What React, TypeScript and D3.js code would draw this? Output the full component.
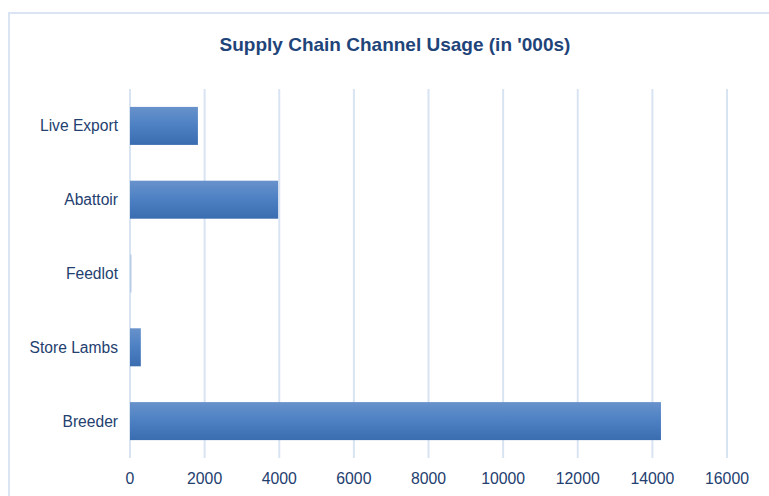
import React from "react";
import * as d3 from "d3";

const categories = ["Live Export", "Abattoir", "Feedlot", "Store Lambs", "Breeder"];
const values = [1820, 3970, 40, 290, 14230];
const xTicks = [0, 2000, 4000, 6000, 8000, 10000, 12000, 14000, 16000];
const title = "Supply Chain Channel Usage (in '000s)";

export default function App() {
  const W = 769, H = 496;
  const left = 130, right = 727, top = 89, bottom = 458;
  const x = d3.scaleLinear().domain([0, 16000]).range([left, right]);
  const y = d3.scaleBand<string>().domain(categories).range([top, bottom]).paddingInner(0.485).paddingOuter(0.2425);
  const font = "'Liberation Sans', Arial, sans-serif";
  const textColor = "#24406f";
  return (
    <svg width={W} height={H} style={{ position: "absolute", left: 0, top: 0, background: "#fff" }}>
      <defs>
        <linearGradient id="barGrad" x1="0" y1="0" x2="0" y2="1">
          <stop offset="0%" stopColor="#6892cb" />
          <stop offset="50%" stopColor="#4c80c3" />
          <stop offset="100%" stopColor="#3a6cb0" />
        </linearGradient>
      </defs>
      <path d={`M9,${H + 5} L9,13 L${W + 5},13`} fill="none" stroke="#dae4f2" strokeWidth={2} />
      <text x={395} y={51} textAnchor="middle" fontFamily={font} fontWeight="bold" fontSize={19} fill="#1f4479">
        {title}
      </text>
      {xTicks.map((t) => (
        <g key={t}>
          <line x1={x(t)} x2={x(t)} y1={top} y2={bottom} stroke="#d9e4f3" strokeWidth={2} />
          <text x={x(t)} y={484} textAnchor="middle" fontFamily={font} fontSize={15.8} fill={textColor}>
            {t}
          </text>
        </g>
      ))}
      {categories.map((c, i) => (
        <g key={c}>
          <rect x={x(0)} y={y(c)} width={Math.max(1, x(values[i]) - x(0))} height={y.bandwidth()} fill={values[i] < 100 ? "#b8cce6" : "url(#barGrad)"} />
          <text x={118} y={(y(c) as number) + y.bandwidth() / 2 + 5.5} textAnchor="end" fontFamily={font} fontSize={15.6} fill={textColor}>
            {c}
          </text>
        </g>
      ))}
    </svg>
  );
}
